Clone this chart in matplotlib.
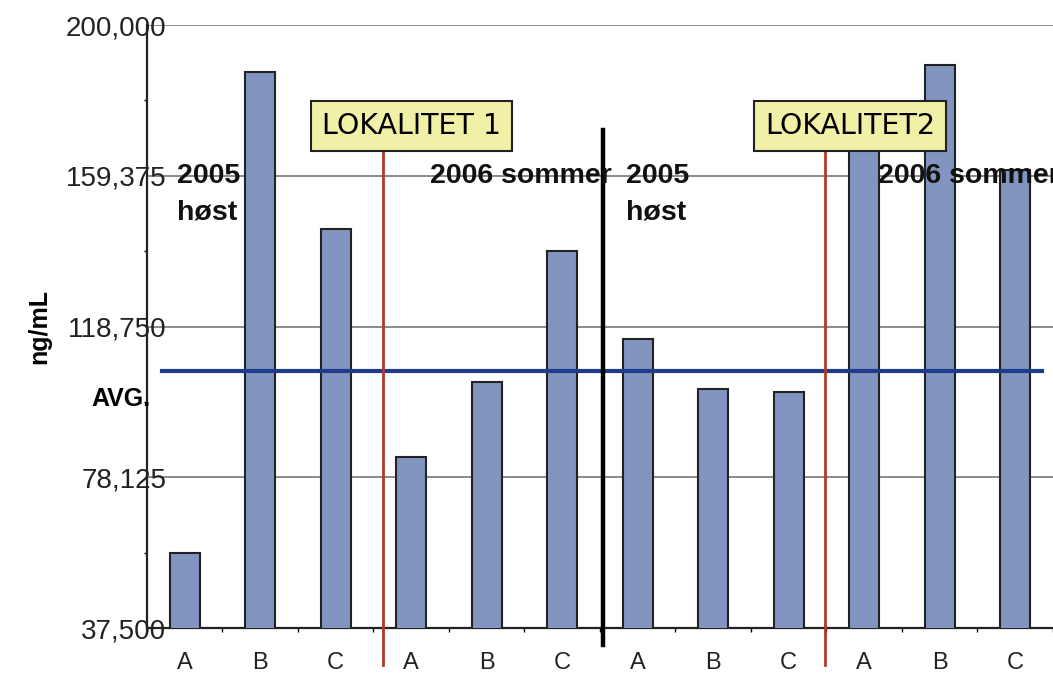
import matplotlib
matplotlib.use("Agg")
import matplotlib.pyplot as plt
import numpy as np
from matplotlib.ticker import FixedLocator, FuncFormatter

# values (ng/mL)
labels = ["A", "B", "C", "A", "B", "C", "A", "B", "C", "A", "B", "C"]
values = [57700, 187300, 145000, 83600, 103800, 139100,
          115400, 101900, 101100, 170000, 189200, 160900]
avg_value = 106800
y_ticks = [37500, 78125, 118750, 159375, 200000]

plt.rcParams["font.family"] = ["Liberation Sans", "DejaVu Sans"]

fig = plt.figure(figsize=(10.53, 6.79), dpi=100)
ax = fig.add_axes([0.1396, 0.0751, 0.8604, 0.888])

x = np.arange(len(values))
ax.bar(x, values, width=0.4, color="#8195c0", edgecolor="#222222",
       linewidth=1.5, zorder=3)

ax.set_xlim(-0.5, len(values) - 0.5)
ax.set_ylim(y_ticks[0], y_ticks[-1])

# grid
ax.yaxis.set_major_locator(FixedLocator(y_ticks))
ax.yaxis.set_major_formatter(FuncFormatter(lambda v, p: "{:,.0f}".format(v)))
ax.grid(axis="y", color="#777777", linewidth=1.2, zorder=0)
ax.set_axisbelow(True)
ax.tick_params(axis="y", length=0, pad=-14, labelsize=20, colors="#222222")
ax.yaxis.set_minor_locator(FixedLocator(
    [(a + b) / 2 for a, b in zip(y_ticks[:-1], y_ticks[1:])]))
ax.tick_params(axis="y", which="minor", length=2, width=1)

ax.set_xticks(x)
ax.set_xticklabels(labels)
ax.xaxis.set_minor_locator(FixedLocator(np.arange(-0.5, len(values), 1.0)))
ax.tick_params(axis="x", which="major", length=0, pad=17, labelsize=17,
               colors="#222222")
ax.tick_params(axis="x", which="minor", length=3, width=1)

for s in ["top", "right"]:
    ax.spines[s].set_visible(False)
for s in ["left", "bottom"]:
    ax.spines[s].set_linewidth(1.6)
    ax.spines[s].set_color("#222222")

# average line
ax.plot([-0.3, 11.35], [avg_value, avg_value], color="#1f3c8c", lw=3, zorder=4)
ax.text(-0.45, avg_value - 7500, "AVG.", ha="right", va="center",
        fontsize=18, fontweight="bold", clip_on=False)

# separators
ax.plot([2.62, 2.62], [27500, 165800], color="#b5382c", lw=2, zorder=5,
        clip_on=False)
ax.plot([8.48, 8.48], [27500, 165800], color="#b5382c", lw=2, zorder=5,
        clip_on=False)
ax.plot([5.54, 5.54], [32900, 171700], color="black", lw=3.2, zorder=5,
        clip_on=False)

# site boxes
box = dict(boxstyle="square,pad=0.38", facecolor="#f0f0a6",
           edgecolor="#222222", linewidth=1.5)
ax.text(3.0, 172800, "LOKALITET 1", ha="center", va="center", fontsize=20.5,
        family="DejaVu Sans", bbox=box, zorder=6)
ax.text(8.81, 172800, "LOKALITET2", ha="center", va="center", fontsize=20.5,
        family="DejaVu Sans", bbox=box, zorder=6)

# season labels
season = dict(fontsize=20.5, fontweight="bold", color="#111111", zorder=6,
              ha="left", va="center")
ax.text(-0.1, 159375, "2005", **season)
ax.text(-0.1, 149500, "høst", **season)
ax.text(3.245, 159375, "2006 sommer", **season)
ax.text(5.85, 159375, "2005", **season)
ax.text(5.85, 149500, "høst", **season)
# cut by the right edge, as in the source figure
ax.text(9.18, 159375, "2006 sommer", clip_on=False, **season)

ax.set_ylabel("ng/mL", fontsize=18, fontweight="bold")
ax.yaxis.set_label_coords(-0.106, 0.5)

fig.savefig("out.png", dpi=100)
